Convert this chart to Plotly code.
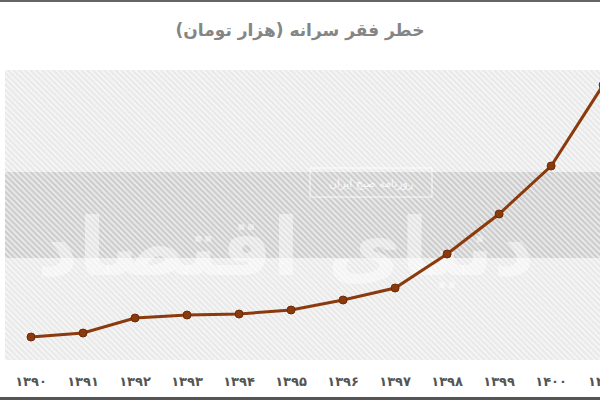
import plotly.graph_objects as go

years = ["۱۳۹۰", "۱۳۹۱", "۱۳۹۲", "۱۳۹۳", "۱۳۹۴", "۱۳۹۵",
         "۱۳۹۶", "۱۳۹۷", "۱۳۹۸", "۱۳۹۹", "۱۴۰۰", "۱۴۰۱"]
poverty_line = [230, 270, 420, 450, 460, 500, 600, 720, 1060, 1460, 1940, 2750]
title_text = "خطر فقر سرانه (هزار تومان)"
idx = list(range(len(years)))

W, H = 600, 400
L, R, T, B = 5, 0, 70, 40
plot_h = H - T - B
plot_w = W - L - R
x_range = [-0.5, 10.94]
y_range = [0, 2900]

def py(px):  # figure pixel y -> paper y
    return (H - B - px) / plot_h

def pxx(px):  # figure pixel x -> paper x
    return (px - L) / plot_w

line_color = "#8a3a0c"

fig = go.Figure()

# hatched background
fig.add_trace(go.Bar(
    x=[(x_range[0] + x_range[1]) / 2], y=[y_range[1]], width=[x_range[1] - x_range[0]],
    marker=dict(color="rgba(0,0,0,0)", line=dict(width=0),
                pattern=dict(shape="\\", fgcolor="rgba(255,255,255,0.75)",
                             size=4, solidity=0.35, fillmode="replace")),
    hoverinfo="skip", showlegend=False))

# watermark (decorative)
fig.add_trace(go.Scatter(
    x=[4.9], y=[1050], mode="text", text=["دنیای اقتصاد"],
    textfont=dict(family="DejaVu Sans", size=80, color="rgba(255,255,255,0.45)", weight="bold"),
    hoverinfo="skip", showlegend=False))

fig.add_trace(go.Scatter(
    x=idx, y=poverty_line, mode="lines+markers",
    line=dict(color=line_color, width=3),
    marker=dict(size=8, color=line_color, line=dict(color="#6a2a06", width=1)),
    showlegend=False, cliponaxis=True))

fig.update_layout(
    width=W, height=H,
    margin=dict(l=L, r=R, t=T, b=B),
    paper_bgcolor="white",
    plot_bgcolor="#e9e9e9",
    bargap=0,
    title=dict(text=title_text, x=0.5, xanchor="center", y=1 - 30 / H, yanchor="middle",
               font=dict(family="DejaVu Sans", size=17, color="#858585", weight="bold")),
    xaxis=dict(range=x_range, tickmode="array", tickvals=idx[:-1], ticktext=years[:-1],
               showgrid=False, zeroline=False, showline=False, ticks="",
               ticklabelstandoff=12, automargin=False,
               tickfont=dict(family="DejaVu Sans", size=13, color="#555555", weight="bold")),
    yaxis=dict(range=y_range, visible=False, showgrid=False, zeroline=False, automargin=False),
    shapes=[
        dict(type="rect", xref="paper", yref="paper", x0=0, x1=1,
             y0=py(258), y1=py(172), fillcolor="#cdcdcd", line=dict(width=0), layer="below"),
        dict(type="rect", xref="paper", yref="paper", x0=pxx(0), x1=1,
             y0=py(2), y1=py(0), fillcolor="#666666", line=dict(width=0)),
        dict(type="rect", xref="paper", yref="paper", x0=pxx(0), x1=1,
             y0=py(400), y1=py(397), fillcolor="#555555", line=dict(width=0)),
        dict(type="rect", xref="paper", yref="paper", x0=pxx(310), x1=pxx(432),
             y0=py(197), y1=py(168), fillcolor="rgba(0,0,0,0)",
             line=dict(color="rgba(255,255,255,0.8)", width=1)),
    ],
    annotations=[
        dict(text=years[-1], xref="paper", yref="paper", x=pxx(604), y=py(381),
             xanchor="center", yanchor="middle", showarrow=False,
             font=dict(family="DejaVu Sans", size=13, color="#555555", weight="bold")),
        dict(text="روزنامه صبح ایران", xref="paper", yref="paper", x=pxx(371), y=py(183),
             xanchor="center", yanchor="middle", showarrow=False,
             font=dict(family="DejaVu Sans", size=11, color="rgba(255,255,255,0.85)")),
    ],
)

fig.write_html("out.html", config={"displayModeBar": False},
               post_script="document.body.style.margin='0';document.body.style.padding='0';")
